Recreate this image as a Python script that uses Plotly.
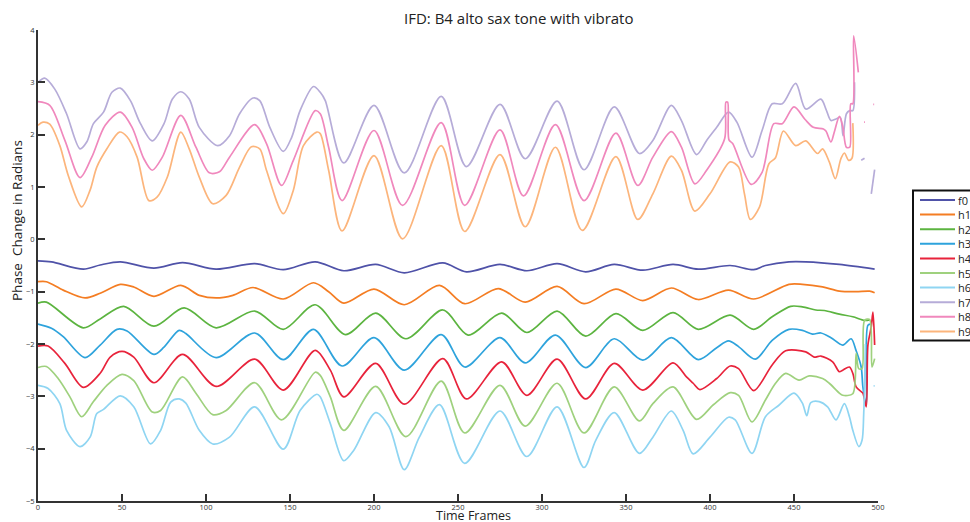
import plotly.graph_objects as go

# ---------------- data ----------------
F0_X = [0, 8, 27, 37, 49, 69, 86, 106, 129, 146, 165, 182, 201, 218, 241, 255, 275, 291, 309, 326, 343, 360, 378, 393, 412, 426, 433, 447, 457, 477, 498]
F0_Y = [-0.41, -0.43, -0.57, -0.49, -0.43, -0.55, -0.445, -0.57, -0.465, -0.58, -0.43, -0.60, -0.48, -0.64, -0.45, -0.62, -0.48, -0.60, -0.465, -0.62, -0.48, -0.59, -0.48, -0.57, -0.50, -0.58, -0.50, -0.43, -0.43, -0.48, -0.57]

H1_X = [0, 5, 15, 28, 37, 49, 57, 69, 85, 96, 106, 116, 128, 146, 164, 173, 182, 200, 218, 239, 254, 274, 290, 309, 325, 344, 360, 377, 393, 411, 426, 447, 455, 467, 477, 487, 495, 498]
H1_Y = [-0.81, -0.81, -0.97, -1.12, -1.03, -0.86, -0.91, -1.09, -0.88, -1.07, -1.12, -1.07, -0.92, -1.14, -0.83, -1.00, -1.22, -0.95, -1.25, -0.88, -1.23, -0.94, -1.20, -0.90, -1.23, -0.95, -1.17, -0.93, -1.15, -0.97, -1.14, -0.86, -0.86, -0.91, -0.99, -1.00, -0.99, -1.02]

H2_X = [0, 5, 27, 37, 51, 69, 87, 106, 129, 146, 165, 183, 201, 219, 241, 256, 276, 291, 309, 326, 344, 360, 378, 393, 412, 426, 437, 448, 455, 463, 468, 477, 485, 492, 495]
H2_Y = [-1.22, -1.20, -1.69, -1.52, -1.28, -1.66, -1.31, -1.69, -1.37, -1.72, -1.25, -1.82, -1.41, -1.90, -1.35, -1.83, -1.41, -1.78, -1.37, -1.85, -1.42, -1.74, -1.40, -1.72, -1.45, -1.72, -1.48, -1.28, -1.29, -1.35, -1.36, -1.43, -1.48, -1.55, -1.54]

H3_X = [0, 8, 15, 28, 37, 47, 53, 69, 75, 84, 88, 106, 129, 146, 164, 181, 200, 218, 240, 254, 275, 290, 308, 326, 343, 360, 377, 393, 404, 411, 417, 427, 437, 447, 455, 461, 466, 472, 479, 484, 487, 490, 491, 493, 494, 496]
H3_Y = [-1.62, -1.70, -1.86, -2.26, -2.02, -1.72, -1.75, -2.20, -2.06, -1.74, -1.80, -2.26, -1.79, -2.30, -1.72, -2.42, -1.88, -2.50, -1.82, -2.44, -1.88, -2.36, -1.83, -2.45, -1.90, -2.31, -1.88, -2.30, -2.07, -1.94, -2.05, -2.29, -1.93, -1.72, -1.74, -1.81, -1.79, -1.88, -2.02, -1.90, -2.13, -2.44, -2.82, -3.17, -1.64, -1.62]

H4_X = [0, 6, 16, 27, 37, 43, 50, 57, 69, 86, 106, 129, 146, 165, 174, 182, 201, 218, 241, 255, 276, 291, 309, 326, 343, 360, 378, 386, 390, 394, 404, 412, 417, 426, 437, 445, 457, 462, 466, 473, 477, 479, 483, 485, 487, 490, 491, 493, 494, 496, 497, 498]
H4_Y = [-2.04, -2.04, -2.37, -2.83, -2.56, -2.25, -2.14, -2.25, -2.74, -2.20, -2.81, -2.29, -2.88, -2.12, -2.50, -3.01, -2.37, -3.15, -2.28, -3.05, -2.34, -2.98, -2.29, -3.05, -2.37, -2.88, -2.36, -2.63, -2.75, -2.87, -2.66, -2.42, -2.47, -2.89, -2.40, -2.13, -2.15, -2.25, -2.23, -2.34, -2.53, -2.50, -2.44, -2.56, -2.82, -2.91, -2.94, -3.20, -2.02, -1.67, -1.39, -2.02]

H5_X = [0, 5, 12, 19, 26, 33, 41, 50, 57, 68, 73, 86, 94, 104, 112, 129, 145, 165, 168, 174, 182, 201, 219, 240, 254, 275, 290, 309, 325, 343, 358, 366, 378, 392, 402, 412, 417, 425, 433, 439, 445, 453, 459, 467, 471, 477, 479, 485, 487, 488.5, 490.5, 492, 495, 496.4, 498]
H5_Y = [-2.45, -2.43, -2.66, -3.01, -3.39, -3.10, -2.79, -2.58, -2.70, -3.30, -3.27, -2.63, -2.94, -3.35, -3.27, -2.74, -3.45, -2.54, -2.60, -3.01, -3.65, -2.81, -3.77, -2.71, -3.70, -2.79, -3.57, -2.75, -3.70, -2.82, -3.47, -3.14, -2.82, -3.44, -3.16, -2.93, -2.98, -3.49, -3.07, -2.75, -2.56, -2.69, -2.61, -2.66, -2.75, -2.94, -2.98, -2.95, -2.18, -2.47, -2.47, -1.55, -1.53, -2.44, -2.28]

H6_X = [0, 6, 13, 17, 25, 31, 35, 39, 49, 57, 67, 73, 79, 84, 88, 96, 104, 114, 129, 146, 156, 166, 168, 174, 182, 188, 201, 209, 218, 227, 239, 254, 275, 291, 309, 325, 332, 343, 358, 366, 377, 384, 390, 400, 411, 415, 425, 433, 441, 450, 455, 457.6, 460, 465, 470, 475, 480, 483, 485, 488.6, 490.5, 491.5, 492.5, None, 497.4, 498]
H6_Y = [-2.79, -2.85, -3.14, -3.65, -3.96, -3.78, -3.33, -3.25, -2.99, -3.20, -3.91, -3.65, -3.11, -3.05, -3.13, -3.65, -3.91, -3.78, -3.20, -4.01, -3.27, -2.96, -3.01, -3.52, -4.23, -4.03, -3.31, -3.58, -4.40, -3.78, -3.16, -4.28, -3.28, -4.15, -3.20, -4.36, -3.84, -3.31, -4.09, -3.78, -3.28, -3.65, -4.10, -3.78, -3.40, -3.45, -4.09, -3.39, -3.17, -2.94, -3.13, -3.37, -3.12, -3.10, -3.20, -3.45, -3.14, -3.39, -3.65, -3.96, -3.84, -3.33, -2.00, None, -2.80, -2.80]

H7_X = [0, 4, 10, 17, 25, 29, 33, 39, 44, 49, 55, 61, 68, 75, 80, 85, 90, 96, 107, 114, 120, 128, 132, 138, 146, 151, 156, 164, 168, 171, 182, 200, 218, 240, 255, 275, 290, 309, 325, 343, 358, 366, 377, 383, 392, 398, 404, 411, 416, 425, 431, 437, 443, 451, 457, 466, 469, 472, 475, 477.6, 479.2, 481.2, 483.2, 485, 486, None, 490, 492, None, 496, 498]
H7_Y = [3.00, 3.08, 2.87, 2.40, 1.73, 1.86, 2.21, 2.43, 2.81, 2.89, 2.65, 2.21, 1.88, 2.21, 2.68, 2.82, 2.68, 2.14, 1.79, 1.98, 2.40, 2.70, 2.65, 2.14, 1.68, 1.95, 2.46, 2.92, 2.81, 2.65, 1.46, 2.56, 1.27, 2.73, 1.39, 2.58, 1.54, 2.64, 1.33, 2.53, 1.64, 1.89, 2.56, 2.27, 1.62, 1.89, 2.14, 2.43, 2.24, 1.57, 2.08, 2.59, 2.59, 2.98, 2.49, 2.68, 2.49, 2.27, 2.30, 2.33, 1.98, 2.40, 2.46, 2.46, 3.00, None, 1.51, 1.55, None, 0.87, 1.33]

H8_X = [0, 7, 16, 25, 32, 40, 49, 56, 63, 68, 74, 85, 94, 102, 108, 114, 129, 136, 145, 152, 165, 168, 173, 181, 200, 217, 240, 254, 275, 289, 308, 325, 344, 357, 366, 377, 383, 391, 398, 408.7, 409.5, 410.5, 411.3, 413.5, 424.5, 431, 438, 443, 450, 456.6, 461.5, 467.5, 469, 472, 474, 477, 479, 481.2, 483.2, 483.8, 485, 485.5, 488.3, None, 491.7, 492.2, None, 497.2, 497.7]
H8_Y = [2.63, 2.56, 1.89, 1.18, 1.57, 2.18, 2.43, 2.14, 1.54, 1.32, 1.57, 2.37, 1.76, 1.27, 1.29, 1.57, 2.19, 1.83, 1.03, 1.51, 2.46, 2.40, 1.76, 0.74, 2.08, 0.65, 2.23, 0.65, 2.09, 0.83, 2.19, 0.74, 2.03, 1.03, 1.57, 2.06, 1.76, 1.06, 1.32, 1.92, 2.62, 2.62, 1.90, 1.83, 1.05, 1.28, 2.21, 2.21, 2.53, 2.29, 2.14, 2.11, 2.07, 1.86, 2.05, 2.35, 2.16, 1.76, 1.76, 2.59, 2.59, 3.89, 3.19, None, 2.24, 2.24, None, 2.58, 2.58]

H9_X = [0, 3, 7, 13, 18, 26, 31, 35, 41, 48.5, 53, 59, 66, 71, 77, 85, 90, 96, 104, 112, 120, 127, 132, 136, 146, 152, 158, 166, 168, 173, 181, 200, 217, 240, 254, 275, 290, 308, 324, 344, 357, 366, 377, 383, 391, 400, 412, 417, 420.5, 424, 429.5, 435, 439, 443.7, 451, 457, 464, 467, 471, 474.6, 477.9, 480, 482.5, 484.5, 485]
H9_Y = [2.18, 2.24, 2.20, 1.79, 1.22, 0.62, 0.94, 1.38, 1.73, 2.05, 1.96, 1.57, 0.74, 0.81, 1.19, 2.05, 1.73, 1.19, 0.68, 0.84, 1.38, 1.77, 1.73, 1.32, 0.49, 0.94, 1.79, 2.05, 2.02, 1.32, 0.16, 1.60, 0.01, 1.79, 0.15, 1.62, 0.24, 1.76, 0.17, 1.58, 0.38, 0.87, 1.59, 1.32, 0.54, 0.87, 1.48, 1.38, 0.87, 0.38, 0.62, 1.44, 1.56, 2.07, 1.79, 1.88, 1.64, 1.73, 1.48, 1.16, 1.54, 1.65, 1.51, 1.55, 2.22]

SERIES_NAMES = ["f0", "h1", "h2", "h3", "h4", "h5", "h6", "h7", "h8", "h9"]
SERIES_X = [F0_X, H1_X, H2_X, H3_X, H4_X, H5_X, H6_X, H7_X, H8_X, H9_X]
SERIES_Y = [F0_Y, H1_Y, H2_Y, H3_Y, H4_Y, H5_Y, H6_Y, H7_Y, H8_Y, H9_Y]

X_TICKS = [0, 50, 100, 150, 200, 250, 300, 350, 400, 450, 500]
Y_TICKS = [-5, -4, -3, -2, -1, 0, 1, 2, 3, 4]

TITLE = "IFD: B4 alto sax tone with vibrato"
X_TITLE = "Time Frames"
Y_TITLE = "Phase  Change in Radians"

# ---------------- styling ----------------
COLORS = ["#4f52a8", "#f47d23", "#5cb440", "#2ea3dc", "#e8233b",
          "#9fd17e", "#8fd5f2", "#b6acd8", "#f088bd", "#fcb57c"]
FONT = "Open Sans"
AX = "#333333"

# plot-area geometry in pixels (used only to place titles / legend box)
PL, PR, PT, PB = 38, 878, 30, 501
PW, PH = PR - PL, PB - PT


def px(x):
    return (x - PL) / PW


def py(y):
    return (PB - y) / PH


fig = go.Figure()
for name, xs, ys, col in zip(SERIES_NAMES, SERIES_X, SERIES_Y, COLORS):
    fig.add_trace(go.Scatter(
        x=xs, y=ys, name=name, mode="lines",
        line=dict(color=col, width=1.7, shape="spline", smoothing=0.85),
        connectgaps=False, showlegend=False,
    ))

# legend drawn as a boxed key (the reference legend is tighter than plotly's)
shapes = [dict(type="rect", xref="paper", yref="paper",
               x0=px(913), x1=px(1000), y0=py(340.5), y1=py(190.5),
               line=dict(color="#111111", width=2), fillcolor="white", layer="above")]
annotations = []
for i, (name, col) in enumerate(zip(SERIES_NAMES, COLORS)):
    yy = 200 + 14.6 * i
    shapes.append(dict(type="line", xref="paper", yref="paper",
                       x0=px(920), x1=px(955), y0=py(yy), y1=py(yy),
                       line=dict(color=col, width=2), layer="above"))
    annotations.append(dict(text=name, xref="paper", yref="paper",
                            x=px(957), y=py(yy), xanchor="left", yanchor="middle",
                            showarrow=False, borderpad=0,
                            font=dict(family=FONT, size=11, color="#222222")))

annotations += [
    dict(text=TITLE, xref="paper", yref="paper", x=px(518), y=py(18),
         xanchor="center", yanchor="middle", showarrow=False,
         font=dict(family=FONT, size=15, color="#222222")),
    dict(text=X_TITLE, xref="paper", yref="paper", x=px(473), y=py(525),
         xanchor="center", yanchor="bottom", showarrow=False, borderpad=0,
         font=dict(family=FONT, size=12.5, color="#222222")),
    dict(text=Y_TITLE, xref="paper", yref="paper", x=px(17), y=py(221),
         xanchor="center", yanchor="middle", showarrow=False, textangle=-90,
         font=dict(family=FONT, size=13.5, color="#222222")),
]

fig.update_layout(
    width=970, height=522,
    margin=dict(l=PL, r=970 - PR, t=PT, b=522 - PB, autoexpand=False),
    paper_bgcolor="white", plot_bgcolor="white",
    font=dict(family=FONT, color="#222222"),
    showlegend=False,
    xaxis=dict(
        range=[0, 500], tickvals=X_TICKS, showgrid=False, zeroline=False,
        showline=True, linecolor=AX, linewidth=2, mirror=False,
        ticks="inside", ticklen=7, tickwidth=1.5, tickcolor=AX,
        ticklabelstandoff=-2,
        tickfont=dict(family=FONT, size=7.5, color="#333333"),
    ),
    yaxis=dict(
        range=[-5, 4], tickvals=Y_TICKS, showgrid=False, zeroline=False,
        showline=True, linecolor=AX, linewidth=2, mirror=False,
        ticks="inside", ticklen=7, tickwidth=1.5, tickcolor=AX,
        tickfont=dict(family=FONT, size=7.5, color="#333333"),
    ),
    shapes=shapes,
    annotations=annotations,
)

fig.write_html("out.html")
